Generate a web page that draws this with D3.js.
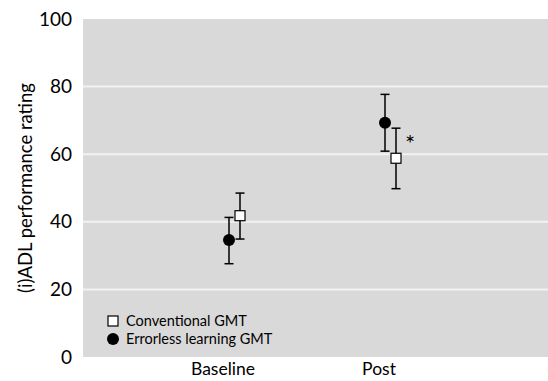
<!DOCTYPE html>
<html><head><meta charset="utf-8">
<script src="https://cdn.jsdelivr.net/npm/d3@7"></script>
<style>body{margin:0;background:#fff}svg{display:block;font-family:Lato,"Open Sans",sans-serif}</style>
</head><body><svg id="c" width="548" height="381"></svg>
<script>
const categories = ["Baseline", "Post"];
const conventionalMean = [41.8, 58.8];
const conventionalLow = [34.9, 49.8];
const conventionalHigh = [48.5, 67.7];
const errorlessMean = [34.6, 69.3];
const errorlessLow = [27.6, 60.9];
const errorlessHigh = [41.3, 77.7];
const yTicks = [0, 20, 40, 60, 80, 100];
const seriesNames = ["Conventional GMT", "Errorless learning GMT"];

const svg = d3.select("#c");
const plot = {left: 83, right: 548, top: 19, bottom: 357};
const y = d3.scaleLinear().domain([0, 100]).range([plot.bottom, plot.top]);
const x = d3.scaleBand().domain(categories).range([145, 457]);
const cx = c => x(c) + x.bandwidth() / 2;

svg.append("rect").attr("x", plot.left).attr("y", plot.top)
  .attr("width", plot.right - plot.left).attr("height", plot.bottom - plot.top).attr("fill", "#d9d9d9");

svg.append("g").selectAll("line").data(yTicks.filter(t => t > 0 && t < 100)).join("line")
  .attr("x1", plot.left).attr("x2", plot.right).attr("y1", d => y(d)).attr("y2", d => y(d))
  .attr("stroke", "#f2f2f2").attr("stroke-width", 2);

const yAxis = svg.append("g").attr("transform", `translate(${plot.left},0)`)
  .call(d3.axisLeft(y).tickValues(yTicks).tickSize(0).tickPadding(11));
yAxis.select(".domain").remove();
yAxis.selectAll("text").attr("font-size", 19).attr("fill", "#000").attr("font-family", "Lato");

const xAxis = svg.append("g").attr("transform", `translate(0,${plot.bottom})`)
  .call(d3.axisBottom(x).tickSize(0).tickPadding(6));
xAxis.select(".domain").remove();
xAxis.selectAll("text").attr("font-size", 17.5).attr("fill", "#000").attr("font-family", "Lato");

svg.append("text").attr("transform", "translate(32,188) rotate(-90)")
  .attr("text-anchor", "middle").attr("font-size", 18.5).text("(i)ADL performance rating");

function errbars(means, lows, highs, off) {
  const g = svg.append("g").attr("stroke", "#000").attr("stroke-width", 1.5);
  categories.forEach((c, i) => {
    const px = cx(c) + off;
    g.append("line").attr("x1", px).attr("x2", px).attr("y1", y(lows[i])).attr("y2", y(highs[i]));
    g.append("line").attr("x1", px - 4.5).attr("x2", px + 4.5).attr("y1", y(lows[i])).attr("y2", y(lows[i]));
    g.append("line").attr("x1", px - 4.5).attr("x2", px + 4.5).attr("y1", y(highs[i])).attr("y2", y(highs[i]));
  });
}
const offE = 6, offC = 17;
errbars(errorlessMean, errorlessLow, errorlessHigh, offE);
errbars(conventionalMean, conventionalLow, conventionalHigh, offC);

svg.append("g").selectAll("circle").data(categories).join("circle")
  .attr("cx", c => cx(c) + offE).attr("cy", (c, i) => y(errorlessMean[i])).attr("r", 6).attr("fill", "#000");
svg.append("g").selectAll("rect").data(categories).join("rect")
  .attr("x", c => cx(c) + offC - 5).attr("y", (c, i) => y(conventionalMean[i]) - 5)
  .attr("width", 10).attr("height", 10).attr("fill", "#fff").attr("stroke", "#000").attr("stroke-width", 1.2);

svg.append("text").attr("x", cx("Post") + offC + 14).attr("y", y(conventionalMean[1]) - 6)
  .attr("font-size", 24).attr("text-anchor", "middle").attr("fill", "#000").text("*");

const leg = svg.append("g");
leg.append("rect").attr("x", 108).attr("y", 316).attr("width", 10).attr("height", 10)
  .attr("fill", "#fff").attr("stroke", "#000").attr("stroke-width", 1.2);
leg.append("circle").attr("cx", 113).attr("cy", 339).attr("r", 6).attr("fill", "#000");
leg.selectAll("text").data(seriesNames).join("text")
  .attr("x", 126).attr("y", (d, i) => 326 + i * 18).attr("font-size", 14.5).text(d => d);
</script></body></html>
